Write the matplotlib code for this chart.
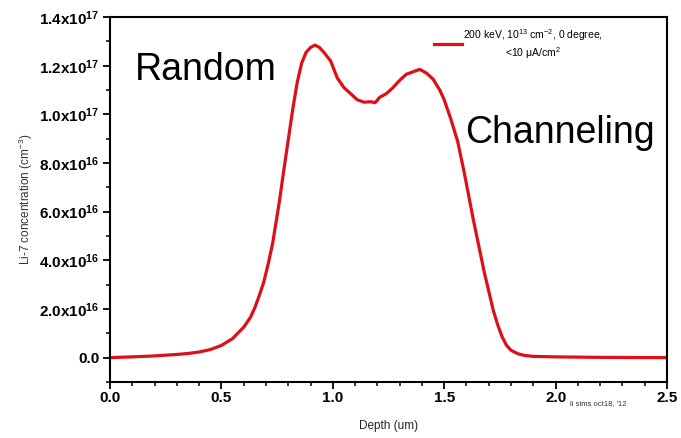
import math
import matplotlib
matplotlib.use("Agg")
import matplotlib.pyplot as plt
from matplotlib.ticker import MultipleLocator, FuncFormatter

plt.rcParams['font.family'] = ['Liberation Sans', 'DejaVu Sans']
plt.rcParams['mathtext.default'] = 'regular'

# Li-7 SIMS depth profile (depth in um, concentration in units of 1e16 cm^-3)
depth = [0.0, 0.1, 0.2, 0.3, 0.35, 0.4, 0.45, 0.5, 0.55, 0.6, 0.63, 0.65,
         0.67, 0.69, 0.71, 0.73, 0.76, 0.78, 0.80, 0.82, 0.84, 0.86, 0.88,
         0.90, 0.92, 0.94, 0.96, 0.99, 1.02, 1.05, 1.08, 1.11, 1.14, 1.17,
         1.19, 1.21, 1.24, 1.27, 1.30, 1.33, 1.36, 1.39, 1.42, 1.45, 1.48,
         1.50, 1.53, 1.56, 1.59, 1.63, 1.68, 1.72, 1.74, 1.76, 1.78, 1.80,
         1.83, 1.86, 1.90, 2.0, 2.2, 2.5]
conc_e16 = [0.0, 0.03, 0.07, 0.13, 0.17, 0.23, 0.33, 0.5, 0.78, 1.25, 1.65,
            2.05, 2.55, 3.1, 3.85, 4.7, 6.4, 7.7, 8.95, 10.2, 11.3, 12.1,
            12.55, 12.75, 12.85, 12.75, 12.55, 12.2, 11.5, 11.1, 10.85, 10.6,
            10.5, 10.52, 10.48, 10.7, 10.85, 11.1, 11.4, 11.65, 11.75, 11.85,
            11.7, 11.45, 11.0, 10.6, 9.8, 8.9, 7.6, 5.7, 3.5, 1.95, 1.35,
            0.85, 0.5, 0.3, 0.16, 0.09, 0.05, 0.03, 0.01, 0.0]
conc = [v * 1e16 for v in conc_e16]

legend_label = "200 keV, 10$^{13}$ cm$^{-2}$, 0 degree,\n<10 \u03bcA/cm$^{2}$"

fig = plt.figure(figsize=(6.81, 4.38), dpi=100)
ax = fig.add_axes([0.1615, 0.128, 0.818, 0.833])

ax.plot(depth, conc, color='#dc1016', linewidth=2.3, label=legend_label,
        solid_joinstyle='round')

ax.set_xlim(0, 2.5)
ax.set_ylim(-1e16, 1.4e17)

ax.xaxis.set_major_locator(MultipleLocator(0.5))
ax.xaxis.set_minor_locator(MultipleLocator(0.1))
ax.yaxis.set_major_locator(MultipleLocator(2e16))
ax.yaxis.set_minor_locator(MultipleLocator(1e16))


def sci_fmt(v, pos):
    if abs(v) < 1:
        return "0.0"
    exp = int(math.floor(math.log10(abs(v)) + 1e-9))
    mant = v / 10 ** exp
    return f"{mant:.1f}x10$^{{{exp}}}$"


ax.yaxis.set_major_formatter(FuncFormatter(sci_fmt))
ax.xaxis.set_major_formatter(FuncFormatter(lambda v, p: f"{v:.1f}"))

ax.tick_params(axis='both', which='major', direction='out', length=5, width=1.3,
               labelsize=11, pad=2.5)
ax.tick_params(axis='x', which='major', pad=1.5)
ax.tick_params(axis='both', which='minor', direction='out', length=3, width=1.1)
for lab in ax.get_xticklabels() + ax.get_yticklabels():
    lab.set_fontweight('bold')
for sp in ax.spines.values():
    sp.set_linewidth(1.5)

ax.set_xlabel("Depth (um)", fontsize=8.5, labelpad=11, color='#222222')
ax.set_ylabel("Li-7 concentration (cm$^{-3}$)", fontsize=8.5, labelpad=3,
              color='#333333')

leg = ax.legend(loc='upper left', bbox_to_anchor=(0.575, 0.985), frameon=False,
                fontsize=7.5, handlelength=2.6, handletextpad=0.15,
                borderaxespad=0)
for t in leg.get_texts():
    t.set_multialignment('center')

ax.text(0.045, 0.855, "Random", transform=ax.transAxes, fontsize=27,
        va='center', ha='left')
ax.text(0.638, 0.682, "Channeling", transform=ax.transAxes, fontsize=27,
        va='center', ha='left')

fig.text(0.878, 0.075, "li sims oct18, '12", fontsize=5.5, ha='center',
         color='#333333')

fig.savefig("out.png", dpi=100)
